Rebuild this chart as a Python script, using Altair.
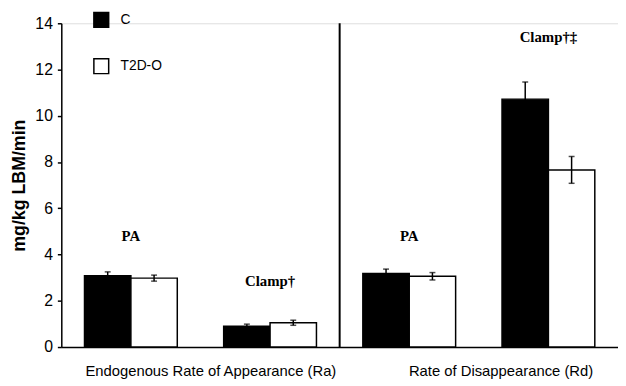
import altair as alt
import pandas as pd

keys = ["Ra-PA", "Ra-Clamp", "Rd-PA", "Rd-Clamp"]
groups = ["C", "T2D-O"]
c_mean = [3.08, 0.90, 3.18, 10.72]
c_err = [0.17, 0.09, 0.19, 0.74]
t_mean = [2.98, 1.05, 3.06, 7.66]
t_err = [0.13, 0.11, 0.16, 0.58]
notes = ["PA", "Clamp†", "PA", "Clamp†‡"]
note_y = [4.82, 2.87, 4.82, 13.4]
y_ticks = [0, 2, 4, 6, 8, 10, 12, 14]

rows = []
for i, k in enumerate(keys):
    rows.append({"key": k, "group": "C", "value": c_mean[i],
                 "lo": c_mean[i] - c_err[i], "hi": c_mean[i] + c_err[i]})
    rows.append({"key": k, "group": "T2D-O", "value": t_mean[i],
                 "lo": t_mean[i] - t_err[i], "hi": t_mean[i] + t_err[i]})
df = pd.DataFrame(rows)
notes_df = pd.DataFrame({"key": keys, "note": notes, "y": note_y})
sep_df = pd.DataFrame({"key": ["Rd-PA"], "y0": [0], "y1": [14]})

FONT = "Liberation Sans"

x_axis = alt.Axis(
    title=None, ticks=False, labelAngle=0, labelOverlap=False, labelLimit=400,
    labelBound=False,
    labelExpr="datum.value == 'Ra-PA' ? 'Endogenous Rate of Appearance (Ra)' : "
              "(datum.value == 'Rd-PA' ? 'Rate of Disappearance (Rd)' : '')",
    labelOffset={"condition": {"test": "datum.value == 'Ra-PA'", "value": 81}, "value": 93},
    labelFont=FONT, labelFontSize=15, labelColor="black",
    labelPadding=17, domainColor="black", domainWidth=1.5,
)
x_scale = alt.Scale(domain=keys, paddingInner=0, paddingOuter=0)
x_enc = alt.X("key:N", scale=x_scale, axis=x_axis)
xoff = alt.XOffset("group:N", scale=alt.Scale(domain=groups, paddingInner=0, paddingOuter=0.5))

y_scale = alt.Scale(domain=[0, 14], nice=False, zero=True)
y_axis = alt.Axis(
    title="mg/kg LBM/min", values=y_ticks, grid=False, tickSize=4, tickColor="black",
    tickWidth=1.5, domainColor="black", domainWidth=1.5, labelFont=FONT,
    labelFontSize=16, labelColor="black", labelPadding=5, titleFont=FONT,
    titleFontSize=18, titleFontWeight="bold", titleColor="black", titlePadding=6,
)

bars = alt.Chart(df).mark_bar(stroke="black", strokeWidth=1.5).encode(
    x=x_enc,
    xOffset=xoff,
    y=alt.Y("value:Q", scale=y_scale, axis=y_axis),
    fill=alt.Fill(
        "group:N",
        scale=alt.Scale(domain=groups, range=["black", "white"]),
        legend=alt.Legend(
            title=None, orient="none", legendX=32, legendY=-12, symbolType="square",
            symbolSize=225, symbolStrokeColor="black", symbolStrokeWidth=1.5,
            labelFont=FONT, labelFontSize=14, labelColor="black", rowPadding=26,
            labelOffset=11, padding=0,
        ),
    ),
)

err = alt.Chart(df).mark_rule(color="black", strokeWidth=1.5).encode(
    x=x_enc, xOffset=xoff, y=alt.Y("lo:Q", scale=y_scale), y2="hi:Q"
)
cap_hi = alt.Chart(df).mark_tick(color="black", size=6, thickness=1.5, orient="horizontal").encode(
    x=x_enc, xOffset=xoff, y=alt.Y("hi:Q", scale=y_scale)
)
cap_lo = alt.Chart(df).mark_tick(color="black", size=6, thickness=1.5, orient="horizontal").encode(
    x=x_enc, xOffset=xoff, y=alt.Y("lo:Q", scale=y_scale)
)

texts = alt.Chart(notes_df).mark_text(
    font="Liberation Serif", fontWeight="bold", fontSize=15, color="black", baseline="middle"
).encode(x=x_enc, y=alt.Y("y:Q", scale=y_scale), text="note:N")

sep = alt.Chart(sep_df).mark_rule(color="black", strokeWidth=2).encode(
    x=alt.X("key:N", scale=x_scale, bandPosition=0),
    y=alt.Y("y0:Q", scale=y_scale),
    y2="y1:Q",
)

chart = alt.layer(bars, err, cap_hi, cap_lo, texts, sep).properties(
    width=564, height=328,
    autosize=alt.AutoSizeParams(type="none"),
    padding={"left": 54, "top": 13, "right": 0, "bottom": 37},
).configure_view(stroke=None).configure(background="white")

chart.save("out.html", embed_options={"renderer": "svg", "actions": False})
